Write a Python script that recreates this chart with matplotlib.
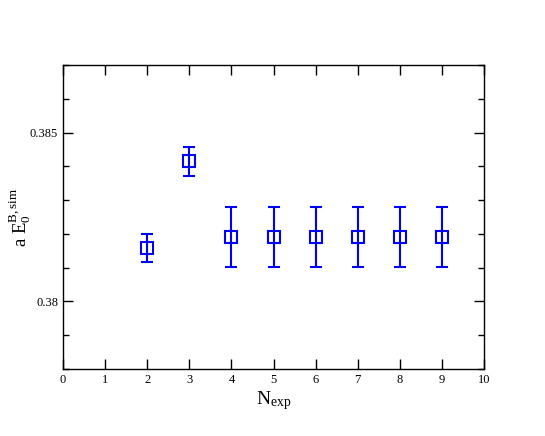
import matplotlib
matplotlib.use("Agg")
import matplotlib.pyplot as plt
from matplotlib.ticker import MultipleLocator, FuncFormatter

# values
n_exp = [2, 3, 4, 5, 6, 7, 8, 9]
energy = [0.38159, 0.38415, 0.38191, 0.38191, 0.38191, 0.38191, 0.38191, 0.38191]
err = [0.00041, 0.00043, 0.00088, 0.00088, 0.00088, 0.00088, 0.00088, 0.00088]

plt.rcParams['font.family'] = ['Liberation Serif', 'DejaVu Serif']
plt.rcParams['mathtext.fontset'] = 'custom'
plt.rcParams['mathtext.rm'] = 'Liberation Serif'
plt.rcParams['mathtext.it'] = 'Liberation Serif:italic'

fig = plt.figure(figsize=(5.45, 4.36), dpi=100)
ax = fig.add_axes([0.1156, 0.1537, 0.7725, 0.6973])

ax.errorbar(n_exp, energy, yerr=err, fmt='s', color='#0000ff', mfc='none',
            mec='#0000ff', ms=8, mew=1.5, elinewidth=1.5, capsize=4.5,
            capthick=1.5)

ax.set_xlim(0, 10)
ax.set_ylim(0.378, 0.387)
ax.xaxis.set_major_locator(MultipleLocator(1))
ax.yaxis.set_major_locator(MultipleLocator(0.005))
ax.yaxis.set_minor_locator(MultipleLocator(0.001))
ax.yaxis.set_major_formatter(FuncFormatter(lambda v, p: '%g' % round(v, 4)))
ax.tick_params(which='both', direction='in', top=True, right=True,
               labelsize=9, width=1)
ax.tick_params(which='major', length=7)
ax.tick_params(which='minor', length=4)
ax.tick_params(axis='x', which='minor', bottom=False, top=False)
for s in ax.spines.values():
    s.set_linewidth(1)

ax.set_xlabel(r'N$_{\rm exp}$', fontsize=14, labelpad=2)
ax.set_ylabel(r'a E$_0^{\rm B,sim}$', fontsize=13.5)
ax.yaxis.set_label_coords(-0.072, 0.5)

fig.savefig('out.png', dpi=100)
